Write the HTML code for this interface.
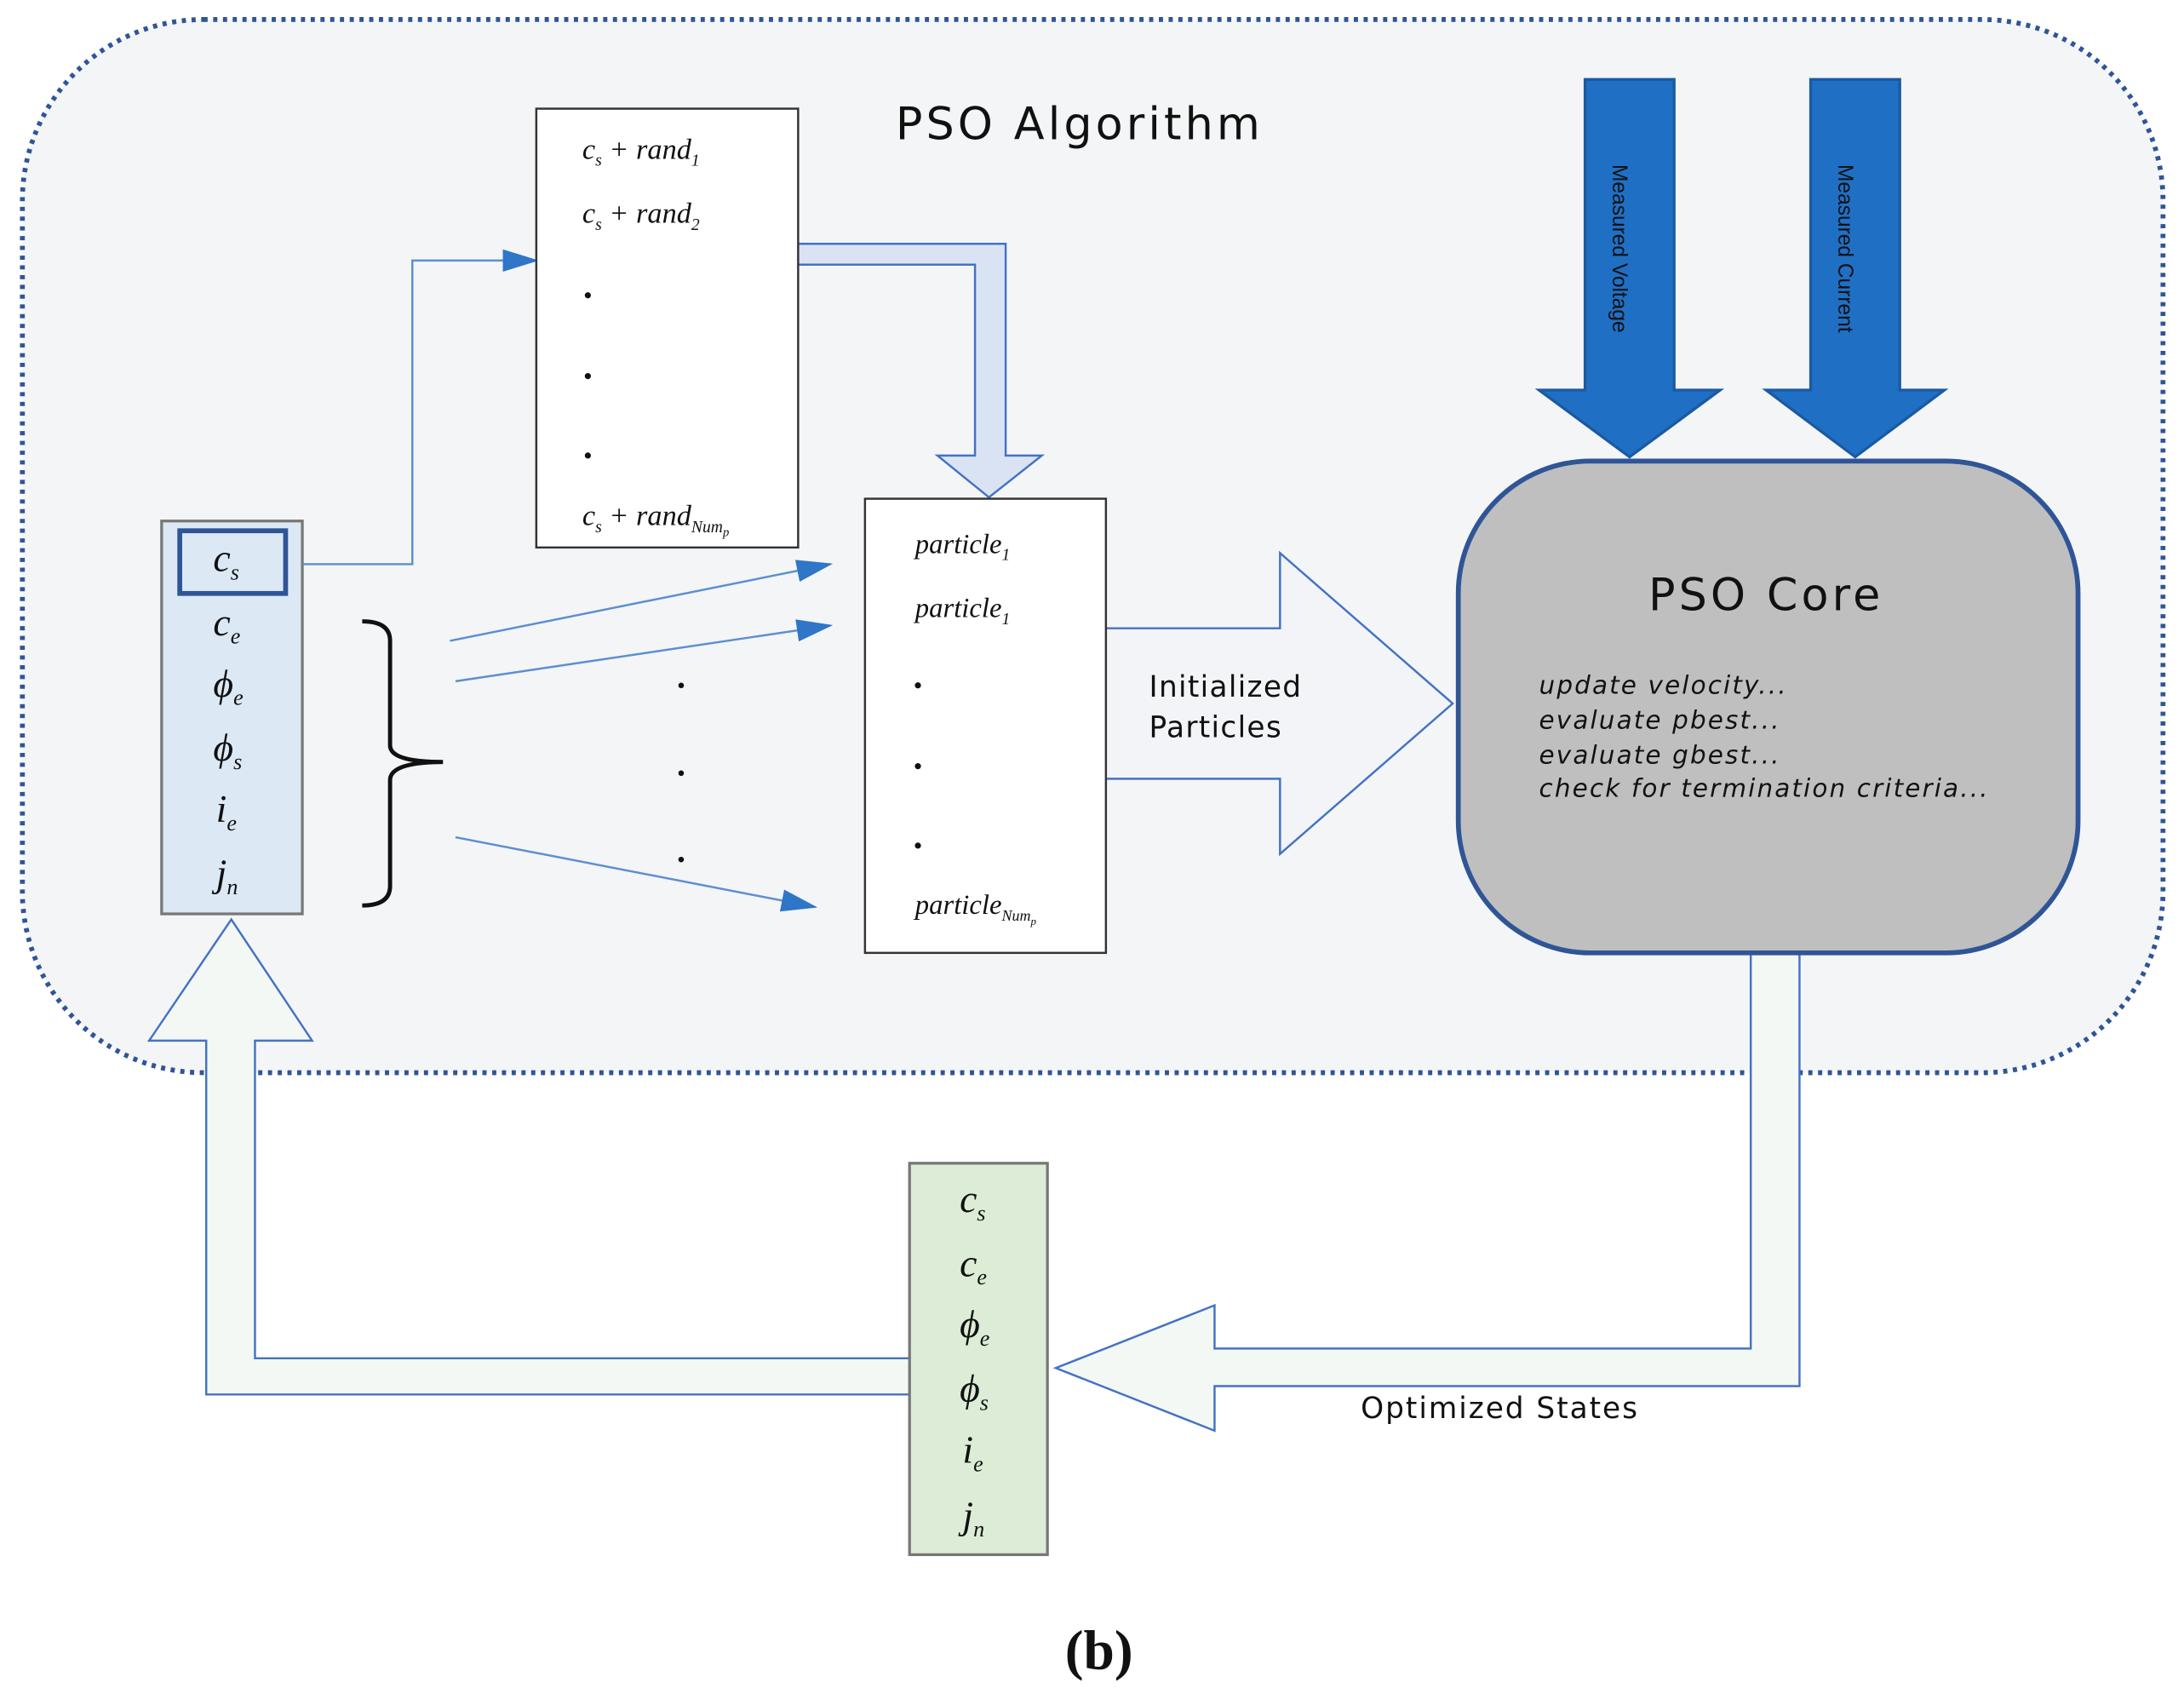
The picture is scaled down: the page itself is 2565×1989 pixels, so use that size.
<!DOCTYPE html>
<html><head><meta charset="utf-8"><style>
html,body{margin:0;padding:0;background:#fff;}
svg{display:block;}
.m{font-family:"Liberation Serif",serif;font-style:italic;}
.s{font-family:"DejaVu Sans","Liberation Sans",sans-serif;}
</style></head><body>
<svg width="2565" height="1989" viewBox="0 0 1568 1216" xmlns="http://www.w3.org/2000/svg">
<defs>
<marker id="ah" markerWidth="26" markerHeight="16" refX="24" refY="8" orient="auto" markerUnits="userSpaceOnUse" viewBox="0 0 26 16">
<path d="M0,0 L26,8 L0,16 z" fill="#2f75c8"/></marker>
</defs>
<rect x="0" y="0" width="1568" height="1216" fill="#fff"/>
<rect x="16" y="14" width="1537" height="756" rx="130" fill="#f4f5f6" stroke="#2f5597" stroke-width="3.5" stroke-dasharray="3,4"/>
<text x="643" y="100" class="s" font-size="32" letter-spacing="2.5" fill="#111">PSO Algorithm</text>

<path d="M1257,684 L1257,968 L872,968 L872,937 L758,982 L872,1027 L872,995 L1292,995 L1292,684" fill="#f4f8f4" stroke="#4472c4" stroke-width="1.5"/>
<text x="977" y="1018" class="s" font-size="21" letter-spacing="1.2" fill="#111">Optimized States</text>
<path d="M653,975 L183,975 L183,747 L224,747 L166,660 L107,747 L148,747 L148,1001 L653,1001" fill="#f4f8f4" stroke="#4472c4" stroke-width="1.5"/>

<rect x="116" y="374" width="101" height="282" fill="#dce9f5" stroke="#777" stroke-width="2"/>
<rect x="129" y="381" width="76" height="45" fill="none" stroke="#2f5597" stroke-width="3.5"/>
<g class="m" font-size="28" fill="#111">
<text x="153" y="410">c<tspan font-size="16" dy="6">s</tspan></text>
<text x="153" y="456">c<tspan font-size="16" dy="6">e</tspan></text>
<text x="153" y="500">ϕ<tspan font-size="16" dy="6">e</tspan></text>
<text x="153" y="546">ϕ<tspan font-size="16" dy="6">s</tspan></text>
<text x="155" y="590">i<tspan font-size="16" dy="6">e</tspan></text>
<text x="155" y="636">j<tspan font-size="16" dy="6">n</tspan></text>
</g>
<path d="M217,405 L296,405 L296,187 L385,187" fill="none" stroke="#5b8fd0" stroke-width="1.5" marker-end="url(#ah)"/>

<path d="M573,175 L722,175 L722,327 L748,327 L710,357 L673,327 L700,327 L700,190 L573,190" fill="#dae3f3" stroke="#4472c4" stroke-width="1.5"/>
<rect x="385" y="78" width="188" height="315" fill="#fff" stroke="#333" stroke-width="1.5"/>
<g class="m" font-size="21" fill="#111">
<text x="418" y="114">c<tspan font-size="12" dy="5">s</tspan><tspan dy="-5"> + rand</tspan><tspan font-size="12" dy="5">1</tspan></text>
<text x="418" y="160">c<tspan font-size="12" dy="5">s</tspan><tspan dy="-5"> + rand</tspan><tspan font-size="12" dy="5">2</tspan></text>
<text x="418" y="377">c<tspan font-size="12" dy="5">s</tspan><tspan dy="-5"> + rand</tspan><tspan font-size="12" dy="5">Num</tspan><tspan font-size="9" dy="3">p</tspan></text>
</g>
<circle cx="422" cy="212" r="2.2" fill="#111"/><circle cx="422" cy="270" r="2.2" fill="#111"/><circle cx="422" cy="327" r="2.2" fill="#111"/>

<path d="M260,446 Q280,446 280,460 L280,535 Q280,547 318,547 Q280,547 280,560 L280,636 Q280,650 260,650" fill="none" stroke="#111" stroke-width="3"/>
<g stroke="#5b8fd0" stroke-width="1.5" fill="none">
<line x1="323" y1="460" x2="596" y2="405" marker-end="url(#ah)"/>
<line x1="327" y1="489" x2="596" y2="449" marker-end="url(#ah)"/>
<line x1="327" y1="601" x2="585" y2="651" marker-end="url(#ah)"/>
</g>
<circle cx="489" cy="492" r="2" fill="#111"/><circle cx="489" cy="555" r="2" fill="#111"/><circle cx="489" cy="617" r="2" fill="#111"/>

<path d="M794,451 L919,451 L919,397 L1043,505 L919,613 L919,559 L794,559" fill="#f2f4f7" stroke="#4472c4" stroke-width="1.5"/>
<text x="825" y="500" class="s" font-size="21" letter-spacing="0.8" fill="#111">Initialized</text>
<text x="825" y="529" class="s" font-size="21" letter-spacing="0.8" fill="#111">Particles</text>

<rect x="621" y="358" width="173" height="326" fill="#fff" stroke="#333" stroke-width="1.5"/>
<g class="m" font-size="20" fill="#111">
<text x="657" y="397">particle<tspan font-size="12" dy="5">1</tspan></text>
<text x="657" y="443">particle<tspan font-size="12" dy="5">1</tspan></text>
<text x="657" y="656">particle<tspan font-size="11" dy="5">Num</tspan><tspan font-size="8" dy="3">p</tspan></text>
</g>
<circle cx="659" cy="492" r="2.2" fill="#111"/><circle cx="659" cy="550" r="2.2" fill="#111"/><circle cx="659" cy="607" r="2.2" fill="#111"/>

<rect x="1047" y="331" width="445" height="353" rx="95" fill="#bfbfbf" stroke="#2f5597" stroke-width="3.5"/>
<text x="1268" y="438" text-anchor="middle" class="s" font-size="32" letter-spacing="2.5" fill="#111">PSO Core</text>
<g class="s" font-size="18" font-style="italic" letter-spacing="1.3" fill="#111">
<text x="1105" y="498">update velocity...</text>
<text x="1105" y="523">evaluate pbest...</text>
<text x="1105" y="548">evaluate gbest...</text>
<text x="1105" y="572">check for termination criteria...</text>
</g>

<path d="M1138,57 L1202,57 L1202,280 L1235,280 L1170,328 L1105,280 L1138,280 z" fill="#1f6fc5" stroke="#1a5aa0" stroke-width="2"/>
<path d="M1300,57 L1364,57 L1364,280 L1396,280 L1332,328 L1268,280 L1300,280 z" fill="#1f6fc5" stroke="#1a5aa0" stroke-width="2"/>
<text transform="translate(1158,118) rotate(90)" font-family="Liberation Sans,sans-serif" font-size="15" fill="#111">Measured Voltage</text>
<text transform="translate(1320,118) rotate(90)" font-family="Liberation Sans,sans-serif" font-size="15" fill="#111">Measured Current</text>

<rect x="653" y="835" width="99" height="281" fill="#dcecd6" stroke="#777" stroke-width="2"/>
<g class="m" font-size="28" fill="#111">
<text x="689" y="870">c<tspan font-size="16" dy="6">s</tspan></text>
<text x="689" y="916">c<tspan font-size="16" dy="6">e</tspan></text>
<text x="689" y="960">ϕ<tspan font-size="16" dy="6">e</tspan></text>
<text x="689" y="1006">ϕ<tspan font-size="16" dy="6">s</tspan></text>
<text x="691" y="1050">i<tspan font-size="16" dy="6">e</tspan></text>
<text x="691" y="1097">j<tspan font-size="16" dy="6">n</tspan></text>
</g>

<text x="789" y="1198" text-anchor="middle" font-family="Liberation Serif,serif" font-weight="bold" font-size="40" fill="#111">(b)</text>
</svg>
</body></html>
